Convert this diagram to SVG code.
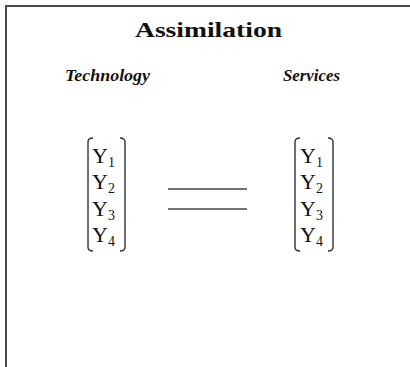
<svg xmlns="http://www.w3.org/2000/svg" width="410" height="367" viewBox="0 0 410 367">
<style>
.frame{fill:none;stroke:#4a4a4a;stroke-width:2}
.title{font-family:"Liberation Serif","Times New Roman",serif;font-weight:bold;font-size:22px;fill:#111;text-anchor:middle}
.label{font-family:"Liberation Serif","Times New Roman",serif;font-weight:bold;font-style:italic;font-size:16px;fill:#111;text-anchor:middle}
.y{font-family:"Liberation Serif","Times New Roman",serif;font-size:22px;fill:#111}
.sub{font-size:14px}
.br{fill:none;stroke:#333;stroke-width:1.4}
.eq{stroke:#444;stroke-width:1.6}
</style>
<rect width="410" height="367" fill="#fff"/>
<path class="frame" d="M6,367 V6 H410"/>
<g id="title"><text class="title" x="208.5" y="37" textLength="147" lengthAdjust="spacingAndGlyphs">Assimilation</text></g>
<g id="technology-label"><text class="label" x="107.5" y="81" textLength="85" lengthAdjust="spacingAndGlyphs">Technology</text></g>
<g id="services-label"><text class="label" x="311.5" y="81" textLength="57" lengthAdjust="spacingAndGlyphs">Services</text></g>
<g id="technology-matrix">
<path class="br" d="M93,138 Q88,138 88,142 V247 Q88,251 93,251"/>
<path class="br" d="M120,138 Q125,138 125,142 V247 Q125,251 120,251"/>
<text class="y" x="92" y="163">Y<tspan class="sub" dy="4">1</tspan></text>
<text class="y" x="92" y="189">Y<tspan class="sub" dy="4">2</tspan></text>
<text class="y" x="92" y="216">Y<tspan class="sub" dy="4">3</tspan></text>
<text class="y" x="92" y="242">Y<tspan class="sub" dy="4">4</tspan></text>
</g>
<g id="services-matrix">
<path class="br" d="M300,138 Q295,138 295,142 V247 Q295,251 300,251"/>
<path class="br" d="M328,138 Q333,138 333,142 V247 Q333,251 328,251"/>
<text class="y" x="300" y="163">Y<tspan class="sub" dy="4">1</tspan></text>
<text class="y" x="300" y="189">Y<tspan class="sub" dy="4">2</tspan></text>
<text class="y" x="300" y="216">Y<tspan class="sub" dy="4">3</tspan></text>
<text class="y" x="300" y="242">Y<tspan class="sub" dy="4">4</tspan></text>
</g>
<g id="connectors">
<line class="eq" x1="168" y1="189" x2="247" y2="189"/>
<line class="eq" x1="168" y1="209" x2="247" y2="209"/>
</g>
</svg>
